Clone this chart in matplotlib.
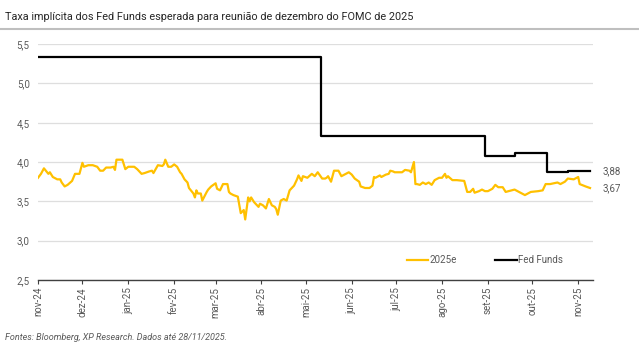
"""Implied Fed Funds rate for the December 2025 FOMC meeting."""

import matplotlib

matplotlib.use("Agg")
import matplotlib.pyplot as plt
import pandas as pd
from matplotlib.ticker import FuncFormatter

plt.rcParams["font.family"] = ["Roboto", "DejaVu Sans"]

TITLE = "Taxa implícita dos Fed Funds esperada para reunião de dezembro do FOMC de 2025"
SOURCE = "Fontes: Bloomberg, XP Research. Dados até 28/11/2025."

# implied rate for the December 2025 meeting
implied_dates = [
    "2024-11-01", "2024-11-03", "2024-11-05", "2024-11-08", "2024-11-09", "2024-11-11",
    "2024-11-14", "2024-11-16", "2024-11-17", "2024-11-19", "2024-11-21", "2024-11-24",
    "2024-11-26", "2024-11-29", "2024-12-01", "2024-12-02", "2024-12-05", "2024-12-08",
    "2024-12-11", "2024-12-13", "2024-12-15", "2024-12-17", "2024-12-20", "2024-12-22",
    "2024-12-23", "2024-12-24", "2024-12-28", "2024-12-30", "2025-01-01", "2025-01-05",
    "2025-01-07", "2025-01-10", "2025-01-12", "2025-01-15", "2025-01-17", "2025-01-18",
    "2025-01-21", "2025-01-24", "2025-01-25", "2025-01-26", "2025-01-28", "2025-01-30",
    "2025-02-01", "2025-02-03", "2025-02-05", "2025-02-06", "2025-02-08", "2025-02-10",
    "2025-02-11", "2025-02-14", "2025-02-15", "2025-02-16", "2025-02-17", "2025-02-19",
    "2025-02-20", "2025-02-23", "2025-02-24", "2025-02-26", "2025-03-01", "2025-03-02",
    "2025-03-04", "2025-03-06", "2025-03-09", "2025-03-10", "2025-03-11", "2025-03-13",
    "2025-03-16", "2025-03-18", "2025-03-19", "2025-03-20", "2025-03-21", "2025-03-23",
    "2025-03-24", "2025-03-25", "2025-03-27", "2025-03-30", "2025-03-31", "2025-04-02",
    "2025-04-04", "2025-04-06", "2025-04-08", "2025-04-10", "2025-04-11", "2025-04-12",
    "2025-04-14", "2025-04-16", "2025-04-18", "2025-04-20", "2025-04-23", "2025-04-25",
    "2025-04-26", "2025-04-28", "2025-04-29", "2025-05-02", "2025-05-05", "2025-05-07",
    "2025-05-09", "2025-05-12", "2025-05-14", "2025-05-15", "2025-05-16", "2025-05-18",
    "2025-05-20", "2025-05-23", "2025-05-25", "2025-05-27", "2025-05-30", "2025-06-01",
    "2025-06-03", "2025-06-06", "2025-06-07", "2025-06-10", "2025-06-13", "2025-06-15",
    "2025-06-16", "2025-06-17", "2025-06-20", "2025-06-21", "2025-06-24", "2025-06-26",
    "2025-06-27", "2025-06-29", "2025-06-30", "2025-07-05", "2025-07-07", "2025-07-10",
    "2025-07-11", "2025-07-13", "2025-07-14", "2025-07-15", "2025-07-17", "2025-07-19",
    "2025-07-21", "2025-07-23", "2025-07-25", "2025-07-27", "2025-07-30", "2025-08-01",
    "2025-08-03", "2025-08-04", "2025-08-05", "2025-08-08", "2025-08-11", "2025-08-16",
    "2025-08-18", "2025-08-20", "2025-08-22", "2025-08-23", "2025-08-26", "2025-08-28",
    "2025-08-30", "2025-09-01", "2025-09-04", "2025-09-06", "2025-09-08", "2025-09-11",
    "2025-09-13", "2025-09-15", "2025-09-19", "2025-09-21", "2025-09-26", "2025-09-30",
    "2025-10-05", "2025-10-08", "2025-10-10", "2025-10-13", "2025-10-18", "2025-10-20",
    "2025-10-23", "2025-10-25", "2025-10-29", "2025-11-01", "2025-11-02", "2025-11-06",
    "2025-11-09",
]
implied_rate = [
    3.80, 3.85, 3.92, 3.85, 3.87, 3.81,
    3.78, 3.78, 3.74, 3.69, 3.71, 3.76,
    3.85, 3.85, 3.99, 3.94, 3.96, 3.96,
    3.94, 3.89, 3.89, 3.93, 3.93, 3.94,
    3.90, 4.03, 4.03, 3.91, 3.94, 3.94,
    3.91, 3.85, 3.86, 3.88, 3.89, 3.86,
    3.96, 3.95, 3.97, 4.03, 3.94, 3.94,
    3.97, 3.94, 3.87, 3.85, 3.78, 3.74,
    3.67, 3.60, 3.55, 3.64, 3.60, 3.60,
    3.51, 3.62, 3.65, 3.69, 3.73, 3.66,
    3.64, 3.72, 3.72, 3.62, 3.60, 3.58,
    3.56, 3.35, 3.37, 3.39, 3.27, 3.55,
    3.50, 3.55, 3.49, 3.43, 3.47, 3.45,
    3.41, 3.53, 3.45, 3.43, 3.40, 3.33,
    3.51, 3.53, 3.51, 3.64, 3.70, 3.78,
    3.83, 3.76, 3.82, 3.80, 3.85, 3.82,
    3.87, 3.79, 3.79, 3.80, 3.82, 3.75,
    3.89, 3.89, 3.82, 3.84, 3.87, 3.84,
    3.79, 3.75, 3.69, 3.67, 3.67, 3.70,
    3.81, 3.80, 3.83, 3.81, 3.84, 3.85,
    3.89, 3.88, 3.87, 3.87, 3.90, 3.89,
    3.87, 4.00, 3.72, 3.72, 3.71, 3.74,
    3.72, 3.74, 3.71, 3.77, 3.80, 3.80,
    3.85, 3.80, 3.82, 3.77, 3.77, 3.76,
    3.62, 3.62, 3.66, 3.61, 3.63, 3.65,
    3.63, 3.63, 3.66, 3.71, 3.68, 3.68,
    3.62, 3.63, 3.65, 3.63, 3.58, 3.62,
    3.63, 3.64, 3.72, 3.72, 3.74, 3.72,
    3.75, 3.79, 3.78, 3.81, 3.72, 3.69,
    3.67,
]

# effective Fed Funds, as step changes
fed_funds_dates = ["2024-11-01", "2025-05-11", "2025-08-30", "2025-09-19",
                   "2025-10-11", "2025-10-25", "2025-11-09"]
fed_funds_rate = [5.33, 4.33, 4.08, 4.11, 3.87, 3.88, 3.88]

month_labels = ["nov-24", "dez-24", "jan-25", "fev-25", "mar-25", "abr-25", "mai-25",
                "jun-25", "jul-25", "ago-25", "set-25", "out-25", "nov-25"]

YELLOW = "#FFC000"
GREY_TEXT = "#595959"

implied = pd.Series(implied_rate, index=pd.to_datetime(implied_dates))
fed = pd.Series(fed_funds_rate, index=pd.to_datetime(fed_funds_dates))
month_starts = pd.date_range("2024-11-01", periods=len(month_labels), freq="MS")

fig = plt.figure(figsize=(6.39, 3.5), dpi=100)
ax = fig.add_axes([0.0595, 0.2, 0.8685, 0.674])

ax.plot(implied.index, implied.values, color=YELLOW, lw=1.6, label="2025e")
ax.plot(fed.index, fed.values, color="black", lw=1.6, drawstyle="steps-post",
        label="Fed Funds")

ax.set_ylim(2.5, 5.5)
ax.set_xlim(pd.Timestamp("2024-11-01"), pd.Timestamp("2025-11-11"))
ax.set_yticks([2.5, 3.0, 3.5, 4.0, 4.5, 5.0, 5.5])
ax.yaxis.set_major_formatter(FuncFormatter(lambda v, _: f"{v:.1f}".replace(".", ",")))
ax.set_xticks(month_starts, month_labels, rotation=90)

ax.grid(axis="y", color="#dedede", lw=0.9)
ax.set_axisbelow(True)
for side in ("top", "right", "left"):
    ax.spines[side].set_visible(False)
ax.spines["bottom"].set_color("#404040")
ax.spines["bottom"].set_linewidth(1.0)
ax.tick_params(axis="y", length=0, labelsize=7, labelcolor=GREY_TEXT, pad=6)
ax.tick_params(axis="x", length=3, color="#404040", labelsize=7,
               labelcolor=GREY_TEXT, pad=2)

# last values written at the right end of each line
for series in (fed, implied):
    ax.annotate(f"{series.iloc[-1]:.2f}".replace(".", ","),
                xy=(series.index[-1], series.iloc[-1]), xytext=(9, 0),
                textcoords="offset points", va="center", ha="left",
                fontsize=7, color=GREY_TEXT, annotation_clip=False)

ax.legend(loc="center", bbox_to_anchor=(0.805, 0.085), ncol=2, frameon=False,
          fontsize=7, handlelength=2.2, handletextpad=0.1, columnspacing=4.0,
          labelcolor=GREY_TEXT)

fig.text(0.008, 0.965, TITLE, fontsize=7.8, color="#262626", va="top", ha="left")
fig.add_artist(plt.Line2D([0, 1], [0.918, 0.918], color="#bfbfbf", lw=1.5,
                          transform=fig.transFigure))
fig.text(0.008, 0.035, SOURCE, fontsize=6.5, color=GREY_TEXT, style="italic",
         va="center", ha="left")

fig.savefig("out.png", dpi=100)
